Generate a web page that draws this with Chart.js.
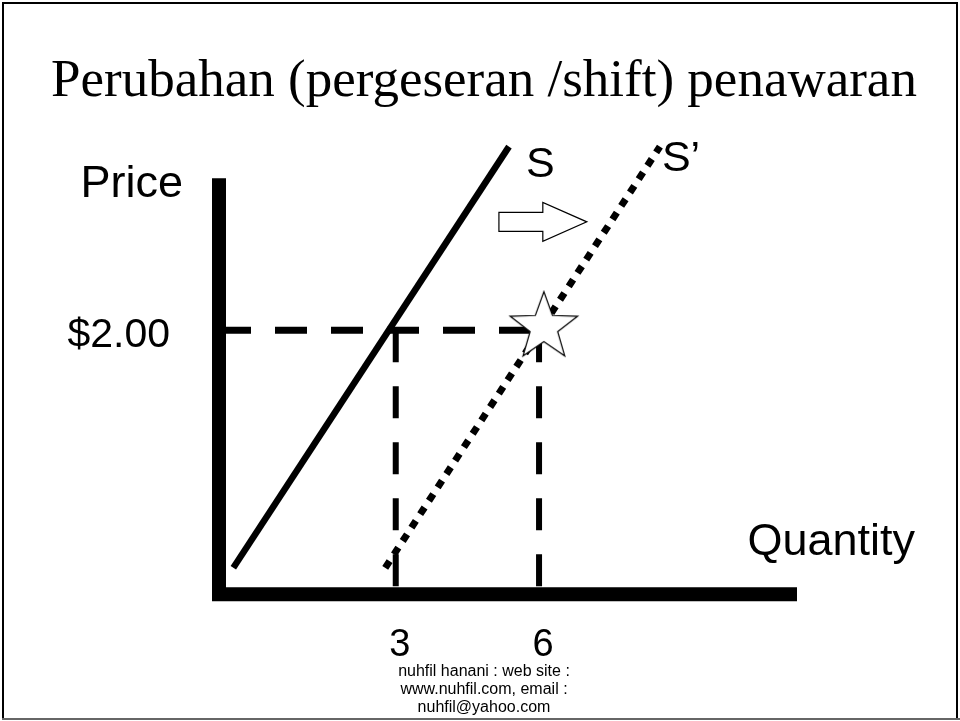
<!DOCTYPE html>
<html>
<head>
<meta charset="utf-8">
<script src="https://cdn.jsdelivr.net/npm/chart.js"></script>
<style>
  body { margin: 0; background: #fff; }
</style>
</head>
<body>
<canvas id="grafik" width="960" height="721"></canvas>
<script>
const qtyTicks = [3, 6];
const priceTicks = [2];
const priceTickLabels = ['$2.00'];

// kurva S dan S'
const sQty = [-0.4, 5.37];
const sPrice = [0.2, 3.39];
const s2Qty = [2.78, 8.53];
const s2Price = [0.2, 3.39];

const eqPrice = 2;
const oldQty = 3;
const newQty = 6;
const starQty = [6.1];
const starPrice = [2.03];

const qtyMin = -0.7;
const qtyMax = 11.4;
const priceMax = 3.44;
const priceAxisTop = 3.15;

function toPoints(xs, ys) {
    return xs.map((x, i) => ({ x: x, y: ys[i] }))
}

function makeStar() {
    const c = document.createElement('canvas');
    c.width = 80;
    c.height = 80;
    const ctx = c.getContext('2d');
    const R = 35.5, r = 14.5;
    ctx.beginPath();
    for (let i = 0; i < 10; i++) {
        const rad = i % 2 === 0 ? R : r;
        const a = -Math.PI / 2 + i * Math.PI / 5;
        const px = 40 + rad * Math.cos(a);
        const py = 41 + rad * Math.sin(a);
        if (i === 0) ctx.moveTo(px, py); else ctx.lineTo(px, py);
    }
    ctx.closePath();
    ctx.fillStyle = '#fff';
    ctx.fill();
    ctx.lineWidth = 1.2;
    ctx.strokeStyle = '#000';
    ctx.stroke();
    return c;
}

const sans = 'Arial, "Liberation Sans", sans-serif';

const hiasan = {
    id: 'hiasan',
    beforeDraw(chart) {
        const ctx = chart.ctx;
        ctx.save();
        ctx.fillStyle = '#fff';
        ctx.fillRect(0, 0, chart.width, chart.height);
        ctx.lineWidth = 2;
        ctx.strokeStyle = '#000';
        ctx.strokeRect(3, 3, 954, 716);
        ctx.strokeStyle = '#666';
        ctx.beginPath();
        ctx.moveTo(2, 719);
        ctx.lineTo(960, 719);
        ctx.stroke();
        ctx.restore();
    },
    afterDatasetsDraw(chart, args, opts) {
        const ctx = chart.ctx;
        const area = chart.chartArea;
        const xs = chart.scales.x, ys = chart.scales.y;
        ctx.save();

        // panah pergeseran
        const x0 = xs.getPixelForValue(opts.arrow.from);
        const x1 = xs.getPixelForValue(opts.arrow.to);
        const yc = ys.getPixelForValue(opts.arrow.y);
        const xh = x1 - 44;
        ctx.beginPath();
        ctx.moveTo(x0, yc - 9.5);
        ctx.lineTo(xh, yc - 9.5);
        ctx.lineTo(xh, yc - 19.5);
        ctx.lineTo(x1, yc);
        ctx.lineTo(xh, yc + 19.5);
        ctx.lineTo(xh, yc + 9.5);
        ctx.lineTo(x0, yc + 9.5);
        ctx.closePath();
        ctx.fillStyle = '#fff';
        ctx.fill();
        ctx.lineWidth = 1.2;
        ctx.strokeStyle = '#000';
        ctx.stroke();

        // teks label
        ctx.fillStyle = '#000';
        ctx.textBaseline = 'alphabetic';
        ctx.font = '45px ' + sans;
        ctx.textAlign = 'right';
        ctx.fillText('Price', area.left - 36, area.top + 57);
        ctx.fillText('Quantity', area.right + 118, area.bottom - 39);

        ctx.font = '43px ' + sans;
        ctx.textAlign = 'left';
        const sEnd = chart.getDatasetMeta(0).data[1];
        ctx.fillText('S', sEnd.x + 17, sEnd.y + 30);
        const s2End = chart.getDatasetMeta(1).data[1];
        ctx.fillText('S\u2019', s2End.x + 2, s2End.y + 24);
        ctx.restore();
    }
};

function drawChart() {
    const lineBase = { showLine: true, pointRadius: 0, fill: false, clip: false, borderColor: '#000', borderCapStyle: 'butt' };

    const data = {
        datasets: [
            Object.assign({ label: 'S', data: toPoints(sQty, sPrice), borderWidth: 6.5, order: 2 }, lineBase),
            Object.assign({ label: "S'", data: toPoints(s2Qty, s2Price), borderWidth: 7, borderDash: [8, 8], order: 2 }, lineBase),
            Object.assign({ label: 'harga', data: [{ x: qtyMin, y: eqPrice }, { x: newQty + 0.05, y: eqPrice }], borderWidth: 7, borderDash: [32, 24], order: 3 }, lineBase),
            Object.assign({ label: 'q3', data: [{ x: oldQty, y: eqPrice }, { x: oldQty, y: 0 }], borderWidth: 6, borderDash: [32, 24], order: 3 }, lineBase),
            Object.assign({ label: 'q6', data: [{ x: newQty, y: eqPrice }, { x: newQty, y: 0 }], borderWidth: 6, borderDash: [32, 24], order: 3 }, lineBase),
            Object.assign({ label: 'sumbu', data: [{ x: qtyMin, y: priceAxisTop }, { x: qtyMin, y: 0 }, { x: qtyMax, y: 0 }], borderWidth: 14, borderJoinStyle: 'miter', order: 1 }, lineBase),
            { label: 'keseimbangan', data: toPoints(starQty, starPrice), pointStyle: makeStar(), pointRadius: 10, showLine: false, clip: false, order: 0 }
        ]
    };

    const options = {
        responsive: false,
        animation: false,
        layout: { padding: { left: 8, right: 0, top: 0, bottom: 0 } },
        plugins: {
            legend: { display: false },
            tooltip: { enabled: false },
            title: {
                display: true,
                text: 'Perubahan (pergeseran /shift) penawaran',
                color: '#000',
                font: { family: '"Times New Roman", "Liberation Serif", serif', size: 53, weight: 'normal' },
                padding: { top: 50, bottom: 26.4 }
            },
            subtitle: {
                display: true,
                position: 'bottom',
                text: ['nuhfil hanani : web site :', 'www.nuhfil.com, email :', 'nuhfil@yahoo.com'],
                color: '#000',
                font: { family: sans, size: 16, lineHeight: 1.1 },
                padding: { top: 0, bottom: 5 }
            },
            hiasan: { arrow: { from: 5.16, to: 7.0, y: 2.82 } }
        },
        scales: {
            x: {
                type: 'linear',
                position: 'bottom',
                min: qtyMin,
                max: qtyMax,
                grid: { display: false, drawTicks: false },
                border: { display: false },
                ticks: { color: '#000', font: { family: sans, size: 38 }, padding: 29, labelOffset: 4, autoSkip: false, maxRotation: 0 },
                afterBuildTicks: axis => { axis.ticks = qtyTicks.map(v => ({ value: v })) },
                afterFit: axis => { axis.height = 69 }
            },
            y: {
                type: 'linear',
                position: 'left',
                min: 0,
                max: priceMax,
                grid: { display: false, drawTicks: false },
                border: { display: false },
                ticks: {
                    color: '#000', font: { family: sans, size: 41 }, padding: 49, labelOffset: 6, autoSkip: false,
                    callback: v => priceTickLabels[priceTicks.indexOf(v)]
                },
                afterBuildTicks: axis => { axis.ticks = priceTicks.map(v => ({ value: v })) },
                afterFit: axis => { axis.width = 211 }
            },
            yKanan: {
                type: 'linear',
                position: 'right',
                grid: { display: false, drawTicks: false },
                border: { display: false },
                ticks: { display: false },
                afterFit: axis => { axis.width = 163 }
            }
        }
    };

    new Chart('grafik', { type: 'scatter', data, options, plugins: [hiasan] })
}

drawChart();
</script>
</body>
</html>
